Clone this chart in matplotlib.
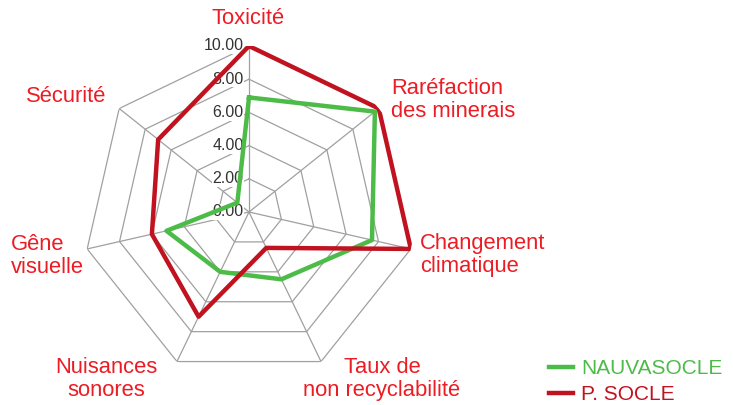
import numpy as np
import matplotlib
matplotlib.use("Agg")
import matplotlib.pyplot as plt

plt.rcParams['font.family'] = ['Liberation Sans', 'DejaVu Sans']

# data
categories = ['Toxicité', 'Raréfaction\ndes minerais', 'Changement\nclimatique',
              'Taux de\nnon recyclabilité', 'Nuisances\nsonores', 'Gêne\nvisuelle', 'Sécurité']
nauvasocle = [6.9, 9.7, 7.6, 4.5, 4.0, 5.1, 0.9]
p_socle = [10.0, 10.0, 10.0, 2.4, 7.0, 6.0, 7.0]
levels = [0, 2, 4, 6, 8, 10]
level_labels = ['0.00', '2.00', '4.00', '6.00', '8.00', '10.00']

green = '#4dbb48'
red = '#c1121f'
label_red = '#ec1c24'
grid_col = '#a0a0a0'

n = len(categories)
theta = np.pi / 2 - np.arange(n) * 2 * np.pi / n
theta_c = np.append(theta, theta[0])

fig = plt.figure(figsize=(7.33, 4.05), dpi=100)
ax = fig.add_axes([83 / 733, 27 / 405, 332 / 733, 332 / 405], projection='polar')
ax.set_ylim(0, 10)
ax.grid(False)
ax.spines['polar'].set_visible(False)
ax.set_xticks([])
ax.set_yticks([])

# heptagon grid
for lv in levels[1:]:
    ax.plot(theta_c, [lv] * (n + 1), color=grid_col, lw=0.9, zorder=1)
for t in theta:
    ax.plot([t, t], [0, 10], color=grid_col, lw=0.9, zorder=1)

# radial tick labels
for lv, lab in zip(levels, level_labels):
    ax.annotate(lab, xy=(np.pi / 2, lv), xytext=(-4, 0), textcoords='offset points',
                ha='right', va='center', fontsize=11.5, color='#333333', zorder=3,
                bbox=dict(boxstyle='square,pad=0.05', fc='white', ec='none'))

ax.plot(theta_c, np.append(nauvasocle, nauvasocle[0]), color=green, lw=3.2,
        label='NAUVASOCLE', zorder=4)
ax.plot(theta_c, np.append(p_socle, p_socle[0]), color=red, lw=3.2,
        label='P. SOCLE', zorder=5)

# category labels
label_pos = [(248, 19, 'center'), (391, 100, 'left'), (420, 255, 'left'),
             (382, 379, 'center'), (106, 379, 'center'), (11, 256, 'left'),
             (26, 97, 'left')]
for cat, (px, py, ha) in zip(categories, label_pos):
    fig.text(px / 733, 1 - py / 405, cat, ha=ha, va='center', fontsize=15.8,
             color=label_red, linespacing=1.17)

leg = fig.legend(loc='upper left', bbox_to_anchor=(549 / 733, 1 - 359 / 405),
                 frameon=False, fontsize=15, labelcolor='linecolor',
                 handlelength=1.15, handletextpad=0.4, labelspacing=0.33,
                 borderpad=0, borderaxespad=0)

fig.savefig('out.png', dpi=100)
